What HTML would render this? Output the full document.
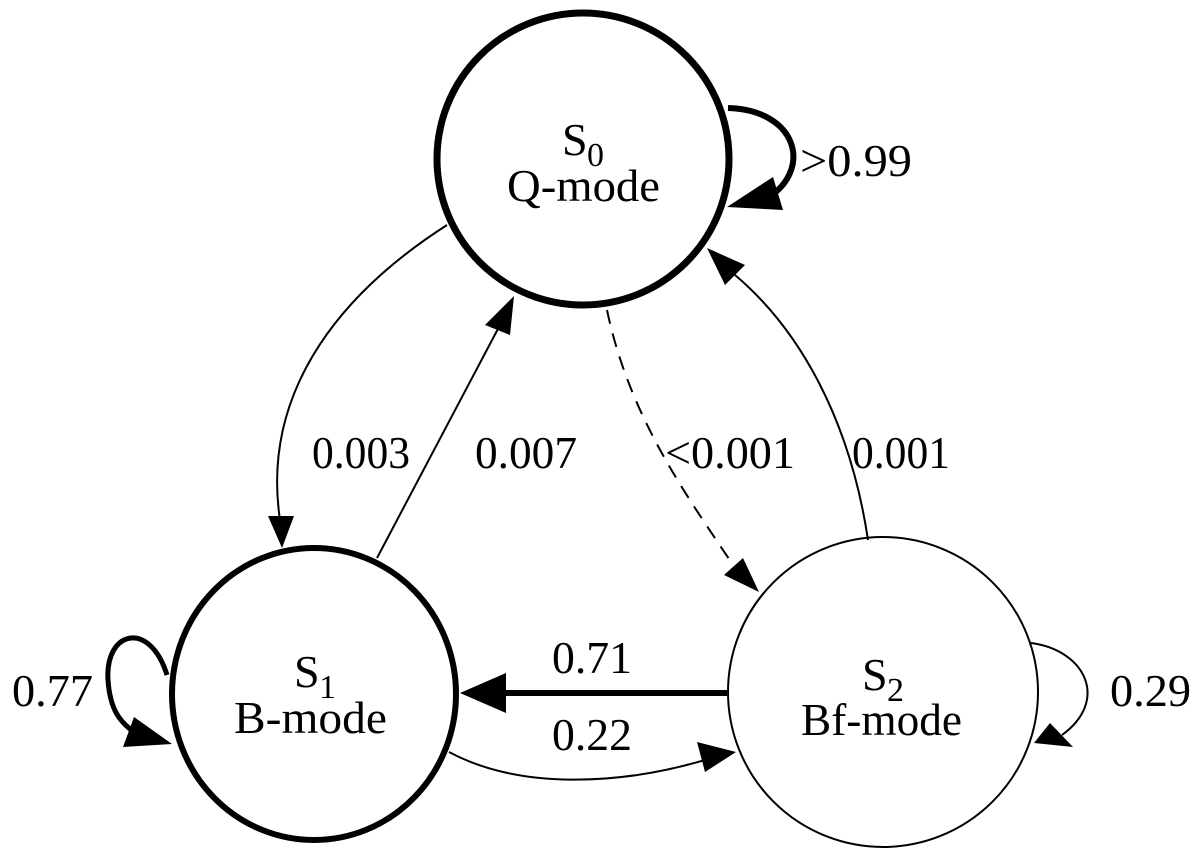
<!DOCTYPE html>
<html><head><style>html,body{margin:0;padding:0;background:#fff}svg{display:block}</style></head>
<body>
<svg width="1200" height="853" viewBox="0 0 1200 853" xmlns="http://www.w3.org/2000/svg" font-family="Liberation Serif, serif" font-size="46" fill="#000">
<rect width="1200" height="853" fill="#fff"/>
<circle cx="583" cy="159" r="146" fill="none" stroke="#000" stroke-width="7"/>
<ellipse cx="314" cy="694" rx="142" ry="146" fill="none" stroke="#000" stroke-width="6"/>
<ellipse cx="883" cy="692" rx="155" ry="155" fill="none" stroke="#000" stroke-width="2"/>
<text x="562" y="155">S</text><text x="587" y="166" font-size="34">0</text>
<text x="507" y="201" textLength="153" lengthAdjust="spacingAndGlyphs">Q-mode</text>
<text x="294" y="687">S</text><text x="319" y="698" font-size="34">1</text>
<text x="234" y="733" textLength="153" lengthAdjust="spacingAndGlyphs">B-mode</text>
<text x="862" y="690">S</text><text x="887" y="701" font-size="34">2</text>
<text x="801" y="735" textLength="161" lengthAdjust="spacingAndGlyphs">Bf-mode</text>
<g fill="none" stroke="#000">
<path d="M728,108 C795,110 812,165 772,195" stroke-width="6"/>
<path d="M447,225 C330,300 262,400 280,520" stroke-width="2"/>
<path d="M377,558 L500,325" stroke-width="2"/>
<path d="M607,310 C630,420 690,500 735,568" stroke-width="2" stroke-dasharray="14,10"/>
<path d="M868,540 C850,420 800,330 735,275" stroke-width="2"/>
<path d="M727,693 L500,693" stroke-width="6"/>
<path d="M449,752 C520,790 620,785 705,760" stroke-width="2"/>
<path d="M167,675 C150,620 105,630 108,680 C110,710 120,722 135,733" stroke-width="5"/>
<path d="M1031,643 C1085,650 1110,700 1062,735" stroke-width="2"/>
</g>
<polygon points="727,207 773,177 783,210"/>
<polygon points="282,548 268,516 294,516"/>
<polygon points="514,296 485,325 510,335"/>
<polygon points="759,592 724,575 743,558"/>
<polygon points="707,248 725,285 745,265"/>
<polygon points="460,693 506,673 506,713"/>
<polygon points="736,752 697,742 705,772"/>
<polygon points="172,744 123,747 134,717"/>
<polygon points="1034,743 1050,723 1073,747"/>
<g lengthAdjust="spacingAndGlyphs">
<text x="800" y="176" textLength="112" lengthAdjust="spacingAndGlyphs">&gt;0.99</text>
<text x="312" y="468" textLength="98" lengthAdjust="spacingAndGlyphs">0.003</text>
<text x="475" y="468" textLength="102" lengthAdjust="spacingAndGlyphs">0.007</text>
<text x="665" y="468" textLength="130" lengthAdjust="spacingAndGlyphs">&lt;0.001</text>
<text x="852" y="468" textLength="98" lengthAdjust="spacingAndGlyphs">0.001</text>
<text x="552" y="673" textLength="80" lengthAdjust="spacingAndGlyphs">0.71</text>
<text x="552" y="750" textLength="80" lengthAdjust="spacingAndGlyphs">0.22</text>
<text x="12" y="706" textLength="81" lengthAdjust="spacingAndGlyphs">0.77</text>
<text x="1110" y="706" textLength="81" lengthAdjust="spacingAndGlyphs">0.29</text>
</g>
</svg>
</body></html>
